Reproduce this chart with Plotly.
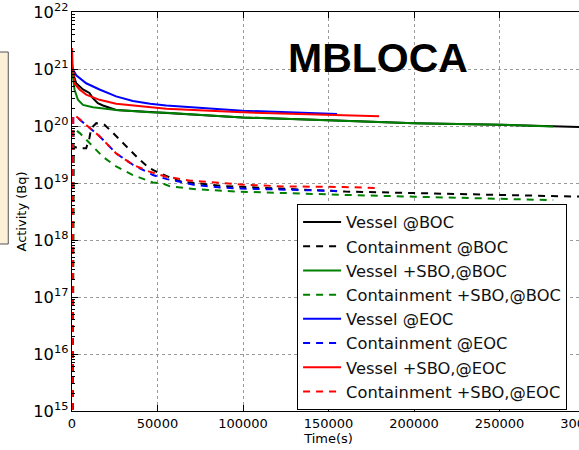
import plotly.graph_objects as go

# ---- data (time in s, activity in Bq) ----
t_ves_boc = [0, 530, 2460, 6400, 10200, 12200, 15100, 18100, 25800, 55100, 99700, 150400, 200100, 250400, 281400, 300000]
a_ves_boc = [1.0e21, 8.51e20, 5.62e20, 4.37e20, 3.80e20, 3.09e20, 2.51e20, 2.29e20, 1.91e20, 1.70e20, 1.41e20, 1.26e20, 1.12e20, 1.05e20, 0.98e20, 0.95e20]

t_con_boc = [0, 900, 3450, 8300, 10200, 11200, 14200, 19000, 23900, 31700, 39500, 45300, 51200, 63300, 86700, 159800, 200100, 250400, 300000]
a_con_boc = [1e10, 4.37e19, 4.07e19, 4.07e19, 6.17e19, 9.12e19, 1.12e20, 1.05e20, 7.59e19, 4.37e19, 2.57e19, 1.82e19, 1.48e19, 1.07e19, 8.91e18, 7.08e18, 6.61e18, 6.17e18, 5.75e18]

t_ves_sbo_boc = [0, 530, 1460, 3450, 6400, 12200, 25800, 45700, 55100, 99700, 150400, 200100, 250400, 281400]
a_ves_sbo_boc = [1.0e21, 7.41e20, 4.37e20, 2.88e20, 2.34e20, 2.14e20, 1.91e20, 1.74e20, 1.70e20, 1.41e20, 1.26e20, 1.12e20, 1.05e20, 0.98e20]

t_con_sbo_boc = [0, 900, 4400, 10200, 18100, 25800, 35600, 47300, 53200, 57400, 73000, 96400, 123700, 160800, 200100, 250400, 281400]
a_con_sbo_boc = [1e10, 9.12e19, 7.59e19, 5.01e19, 2.88e19, 1.95e19, 1.38e19, 1.02e19, 9.77e18, 8.71e18, 7.76e18, 7.08e18, 6.61e18, 6.17e18, 5.75e18, 5.37e18, 5.01e18]

t_ves_eoc = [0, 530, 2460, 8300, 16100, 25800, 35600, 45700, 55100, 99700, 155000]
a_ves_eoc = [1.0e21, 9.77e20, 7.76e20, 5.62e20, 4.37e20, 3.31e20, 2.75e20, 2.45e20, 2.29e20, 1.86e20, 1.62e20]

t_con_eoc = [0, 700, 3450, 8300, 16100, 25800, 35600, 47300, 55500, 71100, 86700, 102300, 127600, 155000]
a_con_eoc = [1e10, 1.45e20, 1.38e20, 1.05e20, 6.61e19, 3.31e19, 2.09e19, 1.38e19, 1.17e19, 9.33e18, 8.32e18, 7.94e18, 7.59e18, 7.24e18]

t_ves_sbo_eoc = [0, 300, 1460, 4400, 8300, 16100, 25800, 35600, 45700, 55100, 99700, 150400, 162700, 179600]
a_ves_sbo_eoc = [2.34e21, 1.26e21, 5.62e20, 4.37e20, 3.55e20, 2.88e20, 2.45e20, 2.29e20, 2.14e20, 2.0e20, 1.74e20, 1.58e20, 1.51e20, 1.48e20]

t_con_sbo_eoc = [0, 700, 2050, 8300, 16100, 25800, 35600, 45300, 55100, 69100, 84700, 100300, 123700, 158800, 179600]
a_con_sbo_eoc = [1e10, 1.58e20, 1.51e20, 1.05e20, 6.61e19, 3.31e19, 2.09e19, 1.58e19, 1.29e19, 1.10e19, 1.0e19, 9.33e18, 8.71e18, 8.51e18, 8.13e18]

series = [
    ("Vessel @BOC", t_ves_boc, a_ves_boc, "#000000", "solid"),
    ("Containment @BOC", t_con_boc, a_con_boc, "#000000", "dash"),
    ("Vessel +SBO,@BOC", t_ves_sbo_boc, a_ves_sbo_boc, "#008000", "solid"),
    ("Containment +SBO,@BOC", t_con_sbo_boc, a_con_sbo_boc, "#008000", "dash"),
    ("Vessel @EOC", t_ves_eoc, a_ves_eoc, "#0000FF", "solid"),
    ("Containment @EOC", t_con_eoc, a_con_eoc, "#0000FF", "dash"),
    ("Vessel +SBO,@EOC", t_ves_sbo_eoc, a_ves_sbo_eoc, "#FF0000", "solid"),
    ("Containment +SBO,@EOC", t_con_sbo_eoc, a_con_sbo_eoc, "#FF0000", "dash"),
]

x_tick_vals = [0, 50000, 100000, 150000, 200000, 250000, 300000]
x_tick_text = ["0", "50000", "100000", "150000", "200000", "250000", "300000"]

FONT = "DejaVu Sans"
FIG_W, FIG_H = 592, 450
L, T, B, R = 72, 12, 411, 584.8   # plot area edges in page pixels
W, H = R - L, B - T

fig = go.Figure()
for name, t, a, col, sty in series:
    fig.add_trace(go.Scatter(
        x=t, y=a, name=name, mode="lines",
        line=dict(color=col, width=2, dash=("7px,6px" if sty == "dash" else "solid")),
    ))

fig.update_layout(
    width=FIG_W, height=FIG_H,
    margin=dict(l=L, r=FIG_W - R, t=T, b=FIG_H - B, autoexpand=False),
    paper_bgcolor="white", plot_bgcolor="white",
    font=dict(family=FONT, size=13, color="black"),
    showlegend=True,
    legend=dict(
        x=(297 - L) / W, y=(B - 204) / H, xanchor="left", yanchor="top",
        bgcolor="white", bordercolor="black", borderwidth=1,
        font=dict(family=FONT, size=16.3, color="#111"),
        tracegroupgap=0, itemwidth=38,
    ),
    xaxis=dict(
        range=[0, 300000], tickvals=x_tick_vals, ticktext=x_tick_text,
        showline=True, linecolor="black", linewidth=1, mirror="ticks",
        ticks="inside", ticklen=6, tickcolor="black",
        showgrid=True, gridcolor="#9a9a9a", griddash="dot", gridwidth=1,
        zeroline=False, automargin=False, ticklabeloverflow="allow",
        title=dict(text="Time(s)", font=dict(size=13), standoff=4),
        tickfont=dict(size=13),
    ),
    yaxis=dict(
        type="log", range=[15, 22], dtick=1, exponentformat="power",
        showline=True, linecolor="black", linewidth=1, mirror="ticks",
        ticks="inside", ticklen=6, tickcolor="black",
        minor=dict(ticks="inside", ticklen=3, tickcolor="black", dtick="D1", showgrid=False),
        showgrid=True, gridcolor="#9a9a9a", griddash="dot", gridwidth=1,
        zeroline=False, automargin=False, ticklabeloverflow="allow",
        title=dict(text="Activity (Bq)", font=dict(size=13), standoff=3),
        tickfont=dict(size=13),
    ),
    annotations=[
        dict(text="<b>MBLOCA</b>", xref="paper", yref="paper",
             x=(378 - L) / W, y=(B - 58) / H, xanchor="center", yanchor="middle",
             showarrow=False, font=dict(family="Liberation Sans", size=41, color="black")),
    ],
    shapes=[
        dict(type="rect", xref="paper", yref="paper",
             x0=-0.17, x1=(8.3 - L) / W, y0=(B - 244) / H, y1=(B - 52) / H,
             fillcolor="#FCF0D6", line=dict(color="#555555", width=1), layer="above"),
    ],
)

fig.write_html(
    "out.html",
    config={"displayModeBar": False},
    post_script="document.body.style.margin='0px';document.body.style.overflow='hidden';"
                "document.documentElement.style.overflow='hidden';",
)
